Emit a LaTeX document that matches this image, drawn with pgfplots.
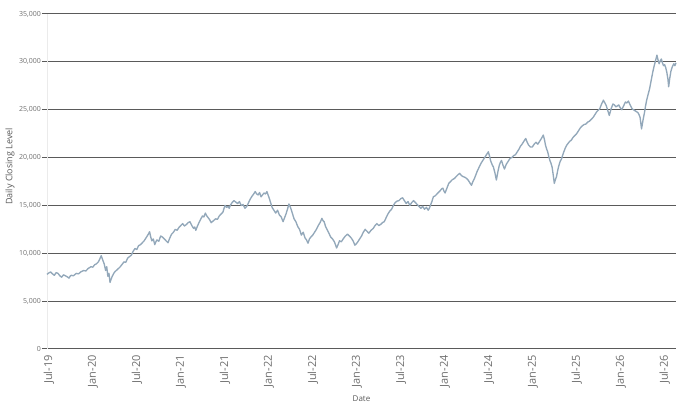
\documentclass[border=0pt]{standalone}
\usepackage{fontspec}
\setmainfont{Open Sans}
\usepackage{pgfplots}
\pgfplotsset{compat=1.18}
\definecolor{gridc}{HTML}{5A5A5A}
\definecolor{linec}{HTML}{93A8BA}
\definecolor{tickc}{HTML}{6E6E6E}
\definecolor{labc}{HTML}{595959}
\begin{document}
\begin{tikzpicture}
\path[use as bounding box] (-47pt,-55pt) rectangle (634pt,349pt);
\begin{axis}[
  at={(0,0)}, anchor=south west,
  scale only axis, width=629pt, height=335pt,
  xmin=0, xmax=85.8, ymin=0, ymax=35000,
  axis x line=bottom, axis y line=left,
  axis line style={-},
  x axis line style={draw=gridc, line width=1pt},
  y axis line style={draw=black!8, line width=0.6pt},
  xtick={0,6,...,84},
  xticklabels={Jul-19,Jan-20,Jul-20,Jan-21,Jul-21,Jan-22,Jul-22,Jan-23,Jul-23,Jan-24,Jul-24,Jan-25,Jul-25,Jan-26,Jul-26},
  xtick style={draw=none},
  ytick={0,5000,...,35000},
  ytick style={draw=gridc, line width=1pt},
  tick align=outside, major tick length=5pt,
  ymajorgrids, grid style={draw=gridc, line width=1pt},
  scaled y ticks=false,
  /pgf/number format/.cd, assume math mode=true, 1000 sep={,},
  /pgfplots/.cd,
  xticklabel style={rotate=90, anchor=east, font=\fontsize{11}{13}\selectfont, text=tickc, inner sep=1pt, yshift=-2pt},
  yticklabel style={font=\fontsize{7}{8}\selectfont, text=tickc, inner sep=1pt},
  xlabel={Date}, ylabel={Daily Closing Level},
  every axis x label/.style={at={(axis description cs:0.5,0)}, anchor=center, yshift=-50pt, font=\fontsize{8}{10}\selectfont, text=labc},
  every axis y label/.style={at={(axis description cs:0,0.545)}, anchor=center, xshift=-37pt, rotate=90, font=\fontsize{9}{11}\selectfont, text=labc},
  clip=false,
]
\addplot[color=linec, line width=1.35pt, line join=round] coordinates {
(0,7800)(0.25,7950)(0.5,8050)(0.75,7850)(1,7700)(1.25,7980)(1.5,7900)(1.75,7650)(2,7500)(2.25,7750)(2.5,7650)(2.75,7550)(3,7400)(3.15,7600)(3.3,7700)(3.6,7650)(4,7900)(4.3,7850)(4.6,8050)(5,8200)(5.3,8150)(5.6,8400)(6,8600)(6.25,8550)(6.5,8800)(6.75,8900)(7,9100)(7.2,9400)(7.4,9750)(7.6,9300)(7.8,8900)(8,8200)(8.15,8600)(8.3,7600)(8.45,7900)(8.6,6950)(8.75,7300)(8.9,7600)(9.1,7900)(9.3,8100)(9.6,8300)(10,8600)(10.25,8850)(10.5,9100)(10.75,9050)(11,9500)(11.25,9650)(11.5,9800)(11.75,10200)(12,10500)(12.25,10400)(12.5,10800)(12.75,10900)(13,11100)(13.25,11300)(13.5,11600)(13.75,11900)(14,12250)(14.15,11700)(14.3,11300)(14.5,11500)(14.7,10900)(14.85,11200)(15,11400)(15.25,11250)(15.5,11800)(15.75,11700)(16,11500)(16.25,11300)(16.5,11100)(16.75,11600)(17,12000)(17.25,12200)(17.5,12500)(17.75,12400)(18,12700)(18.25,12900)(18.5,13100)(18.75,12850)(19,13000)(19.25,13200)(19.5,13300)(19.75,12900)(20,12600)(20.15,12750)(20.3,12400)(20.55,12900)(20.8,13300)(21,13600)(21.2,13900)(21.4,13800)(21.6,14200)(21.8,13900)(22,13700)(22.2,13500)(22.4,13200)(22.7,13400)(23,13600)(23.25,13550)(23.5,13900)(23.75,14100)(24,14300)(24.15,14700)(24.3,15000)(24.5,14800)(24.7,14900)(24.85,14700)(25,15000)(25.25,15300)(25.5,15500)(25.75,15350)(26,15200)(26.25,15400)(26.5,15000)(26.75,15100)(27,14700)(27.25,14900)(27.5,15300)(27.75,15700)(28,16000)(28.2,16200)(28.4,16450)(28.6,16200)(28.8,16100)(29,16350)(29.2,15900)(29.4,16100)(29.6,16300)(29.8,16200)(30,16450)(30.15,16100)(30.3,15800)(30.5,15300)(30.7,14800)(30.95,14500)(31.2,14200)(31.45,14500)(31.7,14000)(31.95,13800)(32.2,13300)(32.4,13700)(32.6,14100)(32.8,14600)(33,15150)(33.15,14900)(33.3,14600)(33.5,14100)(33.7,13600)(33.95,13300)(34.2,12800)(34.45,12500)(34.7,11900)(34.95,12200)(35.2,11600)(35.4,11400)(35.6,11050)(35.8,11500)(36,11700)(36.25,11900)(36.5,12200)(36.75,12500)(37,12900)(37.25,13200)(37.5,13650)(37.65,13400)(37.8,13300)(38,12800)(38.2,12500)(38.45,12100)(38.7,11700)(38.95,11500)(39.2,11200)(39.35,10900)(39.5,10550)(39.7,10900)(39.9,11300)(40.15,11200)(40.4,11500)(40.7,11800)(41,12000)(41.25,11800)(41.5,11600)(41.75,11300)(42,10850)(42.2,11000)(42.4,11200)(42.65,11500)(42.9,11800)(43.15,12200)(43.4,12500)(43.65,12300)(43.9,12100)(44.2,12400)(44.5,12600)(44.75,12900)(45,13100)(45.25,12900)(45.5,13000)(45.75,13200)(46,13300)(46.25,13700)(46.5,14100)(46.75,14400)(47,14600)(47.25,15000)(47.5,15300)(47.75,15450)(48,15500)(48.25,15700)(48.5,15800)(48.75,15500)(49,15200)(49.25,15400)(49.5,15000)(49.75,15300)(50,15500)(50.25,15300)(50.5,15100)(50.75,14900)(51,14700)(51.25,14900)(51.5,14600)(51.75,14800)(52,14500)(52.15,14700)(52.3,15000)(52.5,15400)(52.7,15900)(52.95,16000)(53.2,16200)(53.45,16400)(53.7,16600)(53.85,16750)(54,16800)(54.15,16500)(54.3,16300)(54.55,16800)(54.8,17300)(55.05,17500)(55.3,17700)(55.55,17800)(55.8,18000)(56.05,18200)(56.3,18350)(56.55,18100)(56.8,18000)(57.1,17900)(57.4,17700)(57.65,17400)(57.9,17100)(58.1,17500)(58.3,17800)(58.5,18200)(58.7,18600)(58.95,19000)(59.2,19400)(59.45,19700)(59.7,20000)(59.95,20300)(60.2,20600)(60.35,20200)(60.5,19700)(60.7,19300)(60.9,19000)(61.1,18400)(61.3,17650)(61.5,18500)(61.7,19200)(61.85,19500)(62,19700)(62.2,19200)(62.4,18800)(62.65,19300)(62.9,19600)(63.15,19900)(63.4,20000)(63.65,20200)(63.9,20300)(64.15,20600)(64.4,20900)(64.6,21200)(64.8,21400)(65.05,21700)(65.3,22000)(65.5,21600)(65.7,21300)(65.95,21100)(66.2,21100)(66.45,21400)(66.7,21600)(66.95,21400)(67.2,21700)(67.45,22000)(67.7,22350)(67.85,21900)(68,21300)(68.15,20900)(68.3,20600)(68.45,20100)(68.6,19700)(68.75,19400)(68.9,19000)(69.05,18200)(69.2,17300)(69.35,17700)(69.5,18000)(69.65,18600)(69.8,19100)(70,19600)(70.2,19900)(70.45,20500)(70.7,21000)(70.9,21300)(71.1,21500)(71.3,21700)(71.5,21800)(71.75,22100)(72,22300)(72.25,22500)(72.5,22800)(72.75,23100)(73,23300)(73.25,23450)(73.5,23500)(73.75,23700)(74,23800)(74.25,24000)(74.5,24200)(74.75,24500)(75,24800)(75.2,24950)(75.4,25100)(75.65,25600)(75.9,26000)(76.1,25700)(76.3,25400)(76.5,24900)(76.7,24400)(76.95,25100)(77.2,25600)(77.4,25500)(77.6,25300)(77.8,25400)(78,25500)(78.2,25200)(78.4,25000)(78.65,25400)(78.9,25800)(79.1,25700)(79.3,25900)(79.55,25500)(79.8,25100)(80,25000)(80.2,24900)(80.4,24800)(80.6,24700)(80.75,24500)(80.9,24200)(81,23600)(81.1,23000)(81.3,23900)(81.5,24700)(81.65,25400)(81.8,26000)(82,26600)(82.2,27200)(82.35,27800)(82.5,28400)(82.65,29000)(82.8,29500)(83,30100)(83.2,30700)(83.35,30200)(83.5,29800)(83.65,30100)(83.8,30300)(83.95,29900)(84.1,29600)(84.25,29700)(84.4,29400)(84.55,28900)(84.7,28200)(84.8,27400)(84.95,28300)(85.1,29000)(85.3,29500)(85.5,29800)(85.65,29600)(85.8,29900)
};
\end{axis}
\end{tikzpicture}
\end{document}
